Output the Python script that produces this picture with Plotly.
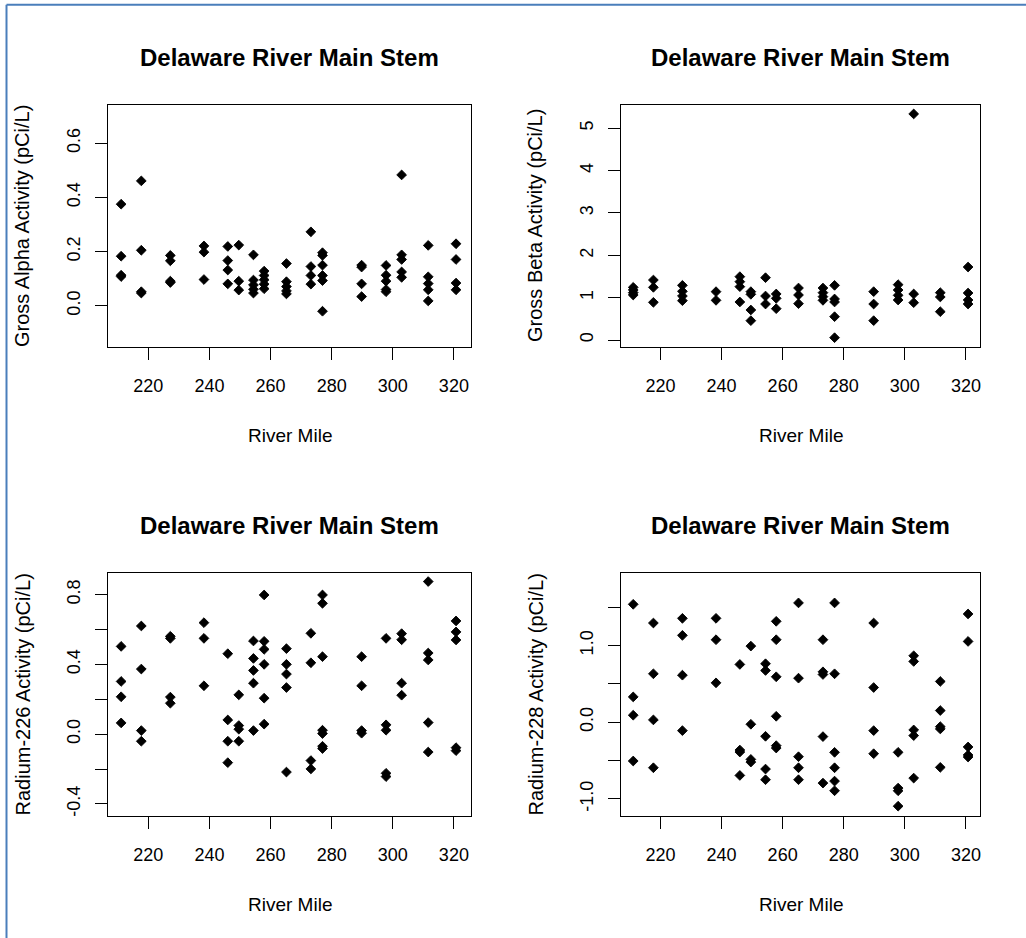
import plotly.graph_objects as go

# ---------------- data ----------------
river_miles = [211.1, 217.7, 227.2, 238.2, 246.0, 249.6, 254.4, 257.9,
               265.2, 273.2, 277.0, 289.8, 297.8, 302.9, 311.6, 320.7]

gross_alpha = [
    [0.375, 0.183, 0.113, 0.108],
    [0.461, 0.205, 0.052, 0.047],
    [0.186, 0.166, 0.091, 0.086],
    [0.221, 0.198, 0.097],
    [0.219, 0.167, 0.132, 0.081],
    [0.224, 0.091, 0.058],
    [0.188, 0.095, 0.077, 0.061, 0.047],
    [0.128, 0.112, 0.096, 0.080, 0.063],
    [0.156, 0.089, 0.071, 0.055, 0.044],
    [0.273, 0.145, 0.112, 0.080],
    [0.196, 0.186, 0.150, 0.112, 0.093, -0.020],
    [0.150, 0.143, 0.081, 0.034],
    [0.149, 0.113, 0.091, 0.060, 0.052],
    [0.483, 0.188, 0.171, 0.125, 0.105],
    [0.223, 0.107, 0.082, 0.059, 0.018],
    [0.229, 0.171, 0.084, 0.059],
]

gross_beta = [
    [1.244, 1.181, 1.118, 1.063],
    [1.417, 1.244, 0.890],
    [1.291, 1.150, 1.039, 0.929],
    [1.142, 0.937],
    [1.496, 1.378, 1.260, 0.898],
    [1.142, 1.079, 0.709, 0.457],
    [1.472, 1.039, 0.850],
    [1.087, 0.984, 0.740],
    [1.228, 1.063, 0.858],
    [1.228, 1.118, 1.024, 0.937],
    [1.291, 0.969, 0.898, 0.551, 0.055],
    [1.142, 0.850, 0.457],
    [1.307, 1.181, 1.055, 0.945],
    [5.339, 1.087, 0.882],
    [1.118, 1.016, 0.669],
    [1.724, 1.110, 0.945, 0.850],
]

radium_226 = [
    [0.504, 0.303, 0.215, 0.065],
    [0.621, 0.374, 0.021, -0.040],
    [0.562, 0.550, 0.213, 0.178],
    [0.640, 0.550, 0.278],
    [0.462, 0.082, -0.040, -0.163],
    [0.226, 0.050, 0.029, -0.040],
    [0.535, 0.435, 0.366, 0.293, 0.021],
    [0.799, 0.533, 0.487, 0.401, 0.207, 0.058],
    [0.491, 0.401, 0.345, 0.268, -0.217],
    [0.579, 0.410, -0.151, -0.199],
    [0.799, 0.751, 0.445, 0.023, 0.004, -0.069, -0.082],
    [0.445, 0.278, 0.021, 0.006],
    [0.550, 0.054, 0.023, -0.224, -0.243],
    [0.577, 0.542, 0.293, 0.224],
    [0.876, 0.466, 0.426, 0.067, -0.102],
    [0.650, 0.587, 0.541, -0.077, -0.094],
]

radium_228 = [
    [1.538, 0.331, 0.092, -0.505],
    [1.294, 0.632, 0.031, -0.593],
    [1.355, 1.133, 0.614, -0.109],
    [1.355, 1.076, 0.514],
    [0.754, -0.362, -0.388, -0.693],
    [0.993, -0.026, -0.484, -0.519],
    [0.763, 0.675, -0.183, -0.610, -0.749],
    [1.316, 1.076, 0.593, 0.078, -0.305, -0.336],
    [1.556, 0.575, -0.449, -0.593, -0.749],
    [1.076, 0.658, 0.623, -0.187, -0.793],
    [1.556, 0.632, -0.392, -0.593, -0.767, -0.893],
    [1.294, 0.453, -0.109, -0.410],
    [-0.392, -0.858, -0.893, -1.094],
    [0.867, 0.793, -0.100, -0.174, -0.728],
    [0.532, 0.153, -0.057, -0.087, -0.588],
    [1.412, 1.054, -0.322, -0.427, -0.453],
]

chart_title = "Delaware River Main Stem"
x_label = "River Mile"
y_labels = ["Gross Alpha Activity (pCi/L)", "Gross Beta Activity (pCi/L)",
            "Radium-226 Activity (pCi/L)", "Radium-228 Activity (pCi/L)"]
x_ticks = [220, 240, 260, 280, 300, 320]
y_tick_vals = [
    [0.0, 0.2, 0.4, 0.6],
    [0, 1, 2, 3, 4, 5],
    [-0.4, -0.2, 0.0, 0.2, 0.4, 0.6, 0.8],
    [-1.0, -0.5, 0.0, 0.5, 1.0, 1.5],
]
y_tick_text = [
    ["0.0", "0.2", "0.4", "0.6"],
    ["0", "1", "2", "3", "4", "5"],
    ["-0.4", "", "0.0", "", "0.4", "", "0.8"],
    ["-1.0", "", "0.0", "", "1.0", ""],
]
series = [gross_alpha, gross_beta, radium_226, radium_228]

# ---------------- layout geometry (pixels) ----------------
W, H = 1026, 938
def px_x(p):
    return p / W
def px_y(p):
    return 1 - p / H

panels = [
    dict(l=108, r=471, t=105, b=347, xr=[206.8, 325.6], yr=[-0.152, 0.741]),
    dict(l=621, r=980, t=105, b=347, xr=[207.1, 324.6], yr=[-0.165, 5.55]),
    dict(l=108, r=471, t=573, b=816, xr=[206.8, 325.6], yr=[-0.469, 0.925]),
    dict(l=621, r=980, t=573, b=816, xr=[207.1, 324.6], yr=[-1.222, 1.946]),
]

FONT = "Liberation Sans, Arial, sans-serif"
TICKFONT = dict(family=FONT, size=18, color="black")

fig = go.Figure()
layout = dict(
    width=W, height=H, autosize=False,
    margin=dict(l=0, r=0, t=0, b=0),
    paper_bgcolor="white", plot_bgcolor="white",
    showlegend=False,
    annotations=[], shapes=[],
)

for i, (p, data) in enumerate(zip(panels, series)):
    n = "" if i == 0 else str(i + 1)
    xs, ys = [], []
    for mile, vals in zip(river_miles, data):
        for v in vals:
            xs.append(mile)
            ys.append(v)
    fig.add_trace(go.Scatter(
        x=xs, y=ys, mode="markers",
        marker=dict(symbol="diamond", size=7.5, color="black",
                    line=dict(color="black", width=0.9)),
        xaxis="x" + n, yaxis="y" + n, hoverinfo="x+y",
    ))
    common = dict(showline=True, mirror=True, linecolor="black", linewidth=1,
                  ticks="outside", ticklen=12, tickwidth=1, tickcolor="black",
                  showgrid=False, zeroline=False, tickfont=TICKFONT,
                  fixedrange=True)
    layout["xaxis" + n] = dict(
        common, domain=[px_x(p["l"]), px_x(p["r"])], range=p["xr"],
        anchor="y" + n, tickvals=x_ticks, ticktext=[str(t) for t in x_ticks],
        ticklabelstandoff=10,
    )
    layout["yaxis" + n] = dict(
        common, domain=[px_y(p["b"]), px_y(p["t"])], range=p["yr"],
        anchor="x" + n, tickvals=y_tick_vals[i], ticktext=y_tick_text[i],
        tickangle=-90, ticklabelstandoff=8,
    )
    cx = (p["l"] + p["r"]) / 2
    layout["annotations"].append(dict(
        text="<b>" + chart_title + "</b>", xref="paper", yref="paper",
        x=px_x(cx), y=px_y(p["t"] - 48), xanchor="center", yanchor="middle",
        showarrow=False, font=dict(family=FONT, size=24, color="black"),
    ))
    layout["annotations"].append(dict(
        text=x_label, xref="paper", yref="paper",
        x=px_x(cx), y=px_y(p["b"] + 88), xanchor="center", yanchor="middle",
        showarrow=False, font=dict(family=FONT, size=19, color="black"),
    ))
    layout["annotations"].append(dict(
        text=y_labels[i], xref="paper", yref="paper", textangle=-90,
        x=px_x(p["l"] - 86), y=px_y((p["t"] + p["b"]) / 2),
        xanchor="center", yanchor="middle",
        showarrow=False, font=dict(family=FONT, size=20, color="black"),
    ))

# blue page border (top and left)
border = "#4a7ebb"
layout["shapes"] += [
    dict(type="line", xref="paper", yref="paper", x0=px_x(6.5), x1=px_x(6.5),
         y0=0, y1=px_y(4.8), line=dict(color=border, width=2)),
    dict(type="line", xref="paper", yref="paper", x0=px_x(6.5), x1=1,
         y0=px_y(4.8), y1=px_y(4.8), line=dict(color=border, width=2)),
]

fig.update_layout(**layout)
fig.write_html("out.html", config={"displayModeBar": False},
               post_script="document.body.style.margin='0';document.body.style.overflow='hidden';")
